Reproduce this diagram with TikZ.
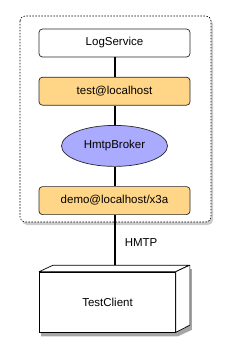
\documentclass[tikz,border=0pt]{standalone}
\usepackage{fontspec}
\setmainfont{Liberation Sans}
\usetikzlibrary{positioning,shapes.geometric,shadows,backgrounds}
\definecolor{jidorange}{RGB}{255,213,135}
\definecolor{brokerblue}{RGB}{170,170,255}
\definecolor{edgegray}{RGB}{40,40,40}
\tikzset{
  servicebox/.style={
    draw=edgegray,
    line width=0.7pt,
    rounded corners=3.5pt,
    minimum width=151pt,
    minimum height=28pt,
    fill=white,
    font=\fontsize{11.5}{13}\selectfont
  },
  jidbox/.style={
    servicebox,
    fill=jidorange
  },
  brokernode/.style={
    ellipse,
    draw=edgegray,
    line width=0.7pt,
    minimum width=106pt,
    minimum height=41pt,
    fill=brokerblue,
    font=\fontsize{11.5}{13}\selectfont
  },
  groupbox/.style={
    draw=black,
    line width=0.6pt,
    dash pattern=on 1.5pt off 1.5pt,
    rounded corners=5pt,
    fill=white,
    drop shadow={shadow xshift=2pt, shadow yshift=-3pt, opacity=0.4}
  },
  clientbox/.style={
    draw=black,
    line width=0.7pt,
    fill=white,
    minimum width=136pt,
    minimum height=60pt,
    font=\fontsize{11.5}{13}\selectfont
  },
  clientface/.style={draw=black, line width=0.7pt, fill=white, line join=round},
  wire/.style={line width=2pt}
}

\begin{document}
\begin{tikzpicture}[x=1pt, y=-1pt, node distance=19.5pt]
\useasboundingbox (0,0) rectangle (230,355);

% dashed group around the broker side
\path[groupbox] (20,16) rectangle (211,222);

\node[servicebox] (logservice) at (114.5,43) {LogService};
\node[jidbox, below=of logservice] (testjid) {test@localhost};
\node[brokernode, below=of testjid] (broker) {HmtpBroker};
\node[jidbox, below=of broker] (demojid) {demo@localhost/x3a};

\draw[wire] (logservice) -- (testjid);
\draw[wire] (testjid) -- (broker);
\draw[wire] (broker) -- (demojid);

% client as a 3d box
\node[clientbox] (client) at (107.5,302) {TestClient};
\draw[clientface] (client.north west) -- ++(14,-6.5) -- ++(136,0) -- (client.north east) -- cycle;
\draw[clientface] (client.north east) -- ++(14,-6.5) -- ++(0,60) -- (client.south east) -- cycle;
\begin{scope}[on background layer]
  \fill[black, opacity=0.35] ([shift={(2,4)}]client.south west) -- ([shift={(2,4)}]client.north west)
    -- ([shift={(16,-2.5)}]client.north west) -- ([shift={(16,-2.5)}]client.north east)
    -- ([shift={(16,-2.5)}]client.south east) -- ([shift={(2,4)}]client.south east) -- cycle;
\end{scope}
\coordinate (clienttop) at ([shift={(7,-6.5)}]client.north);

\draw[wire] (demojid.south) -- node[pos=0.55, right=6pt, font=\fontsize{11.5}{13}\selectfont] (hmtp) {HMTP} (clienttop);
\end{tikzpicture}
\end{document}
